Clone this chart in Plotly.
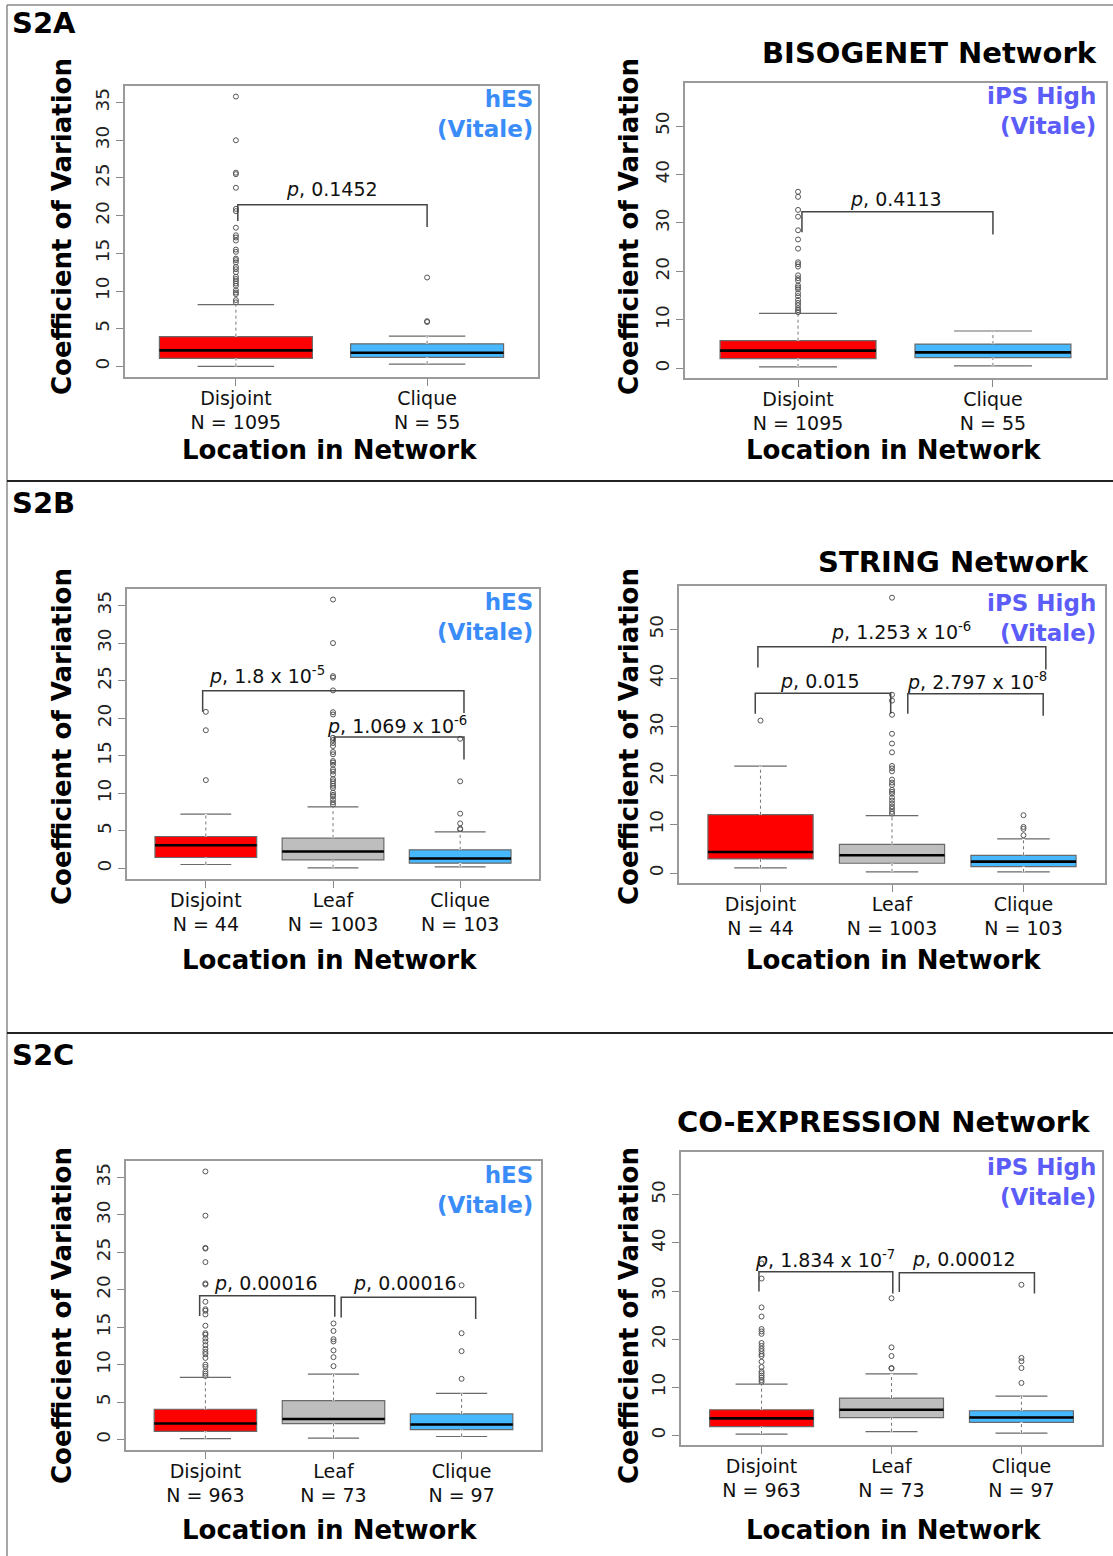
import plotly.graph_objects as go

W, H = 1113, 1556
FONT = "DejaVu Sans"

# ------------------------------------------------------------------ data
# S2A  BISOGENET, hES
A1_labels = ["Disjoint", "Clique"]
A1_n = [1095, 55]
A1_lower = [0.0, 0.3]
A1_q1 = [1.06, 1.2]
A1_median = [2.13, 1.82]
A1_q3 = [3.95, 3.0]
A1_upper = [8.2, 4.03]
A1_outliers = [
    [35.8, 30.0, 25.7, 25.5, 23.7, 20.9, 20.6, 18.4, 17.4, 17.1, 16.7, 15.5, 15.2, 14.3,
     14.1, 13.8, 13.2, 12.9, 12.5, 11.9, 11.6, 11.3, 11.0, 10.7, 10.1, 9.8, 9.6, 8.8, 8.5],
    [11.8, 6.0, 5.9],
]
A1_pvalues = ["0.1452"]

# S2A  BISOGENET, iPS High
A2_labels = ["Disjoint", "Clique"]
A2_n = [1095, 55]
A2_lower = [0.28, 0.5]
A2_q1 = [2.0, 2.2]
A2_median = [3.65, 3.3]
A2_q3 = [5.7, 5.0]
A2_upper = [11.35, 7.7]
A2_outliers = [
    [36.45, 35.4, 32.7, 31.3, 28.5, 26.6, 24.7, 21.9, 21.5, 21.0, 19.2, 18.6, 18.1, 17.1,
     16.7, 16.3, 15.5, 14.9, 14.1, 13.5, 13.0, 12.4, 12.0, 11.6],
    [],
]
A2_pvalues = ["0.4113"]

# S2B  STRING, hES
B1_labels = ["Disjoint", "Leaf", "Clique"]
B1_n = [44, 1003, 103]
B1_lower = [0.53, 0.09, 0.22]
B1_q1 = [1.46, 1.15, 0.71]
B1_median = [3.1, 2.26, 1.33]
B1_q3 = [4.26, 4.04, 2.48]
B1_upper = [7.23, 8.2, 4.88]
B1_outliers = [
    [20.85, 18.4, 11.76],
    [35.8, 30.0, 25.6, 25.4, 23.7, 20.8, 20.5, 17.4, 17.1, 16.7, 16.3, 15.5, 15.2, 14.3,
     14.1, 13.8, 13.2, 12.9, 12.5, 11.9, 11.6, 11.3, 11.0, 10.7, 10.1, 9.8, 9.6, 9.2, 8.8, 8.5],
    [17.26, 11.6, 7.3, 6.0, 5.3, 5.2],
]
B1_pvalues = ["1.8 x 10<sup>-5</sup>", "1.069 x 10<sup>-6</sup>"]

# S2B  STRING, iPS High
B2_labels = ["Disjoint", "Leaf", "Clique"]
B2_n = [44, 1003, 103]
B2_lower = [1.09, 0.27, 0.27]
B2_q1 = [2.93, 2.05, 1.36]
B2_median = [4.37, 3.68, 2.39]
B2_q3 = [12.0, 5.93, 3.68]
B2_upper = [21.96, 11.8, 7.03]
B2_outliers = [
    [31.3],
    [56.5, 36.6, 35.4, 32.5, 28.6, 26.6, 24.8, 22.0, 21.5, 20.9, 19.2, 18.6, 18.1, 17.1,
     16.7, 16.3, 15.5, 14.9, 14.3, 13.7, 13.2, 12.6, 12.2],
    [11.9, 9.5, 9.1, 7.8],
]
B2_pvalues = ["1.253 x 10<sup>-6</sup>", "0.015", "2.797 x 10<sup>-8</sup>"]

# S2C  CO-EXPRESSION, hES
C1_labels = ["Disjoint", "Leaf", "Clique"]
C1_n = [963, 73, 97]
C1_lower = [0.13, 0.18, 0.4]
C1_q1 = [1.1, 2.13, 1.33]
C1_median = [2.13, 2.75, 2.0]
C1_q3 = [4.04, 5.19, 3.42]
C1_upper = [8.3, 8.74, 6.17]
C1_outliers = [
    [35.8, 29.9, 25.6, 25.5, 23.7, 20.85, 20.7, 18.4, 17.4, 17.2, 16.7, 15.2, 14.2, 14.0,
     13.5, 13.1, 12.6, 12.1, 11.7, 11.4, 10.9, 10.0, 9.7, 9.1, 8.8, 8.5],
    [15.5, 14.5, 13.4, 13.1, 11.9, 11.0, 9.8],
    [20.6, 14.2, 11.8, 8.1],
]
C1_pvalues = ["0.00016", "0.00016"]

# S2C  CO-EXPRESSION, iPS High
C2_labels = ["Disjoint", "Leaf", "Clique"]
C2_n = [963, 73, 97]
C2_lower = [0.28, 0.76, 0.48]
C2_q1 = [1.8, 3.67, 2.7]
C2_median = [3.53, 5.33, 3.73]
C2_q3 = [5.33, 7.75, 5.12]
C2_upper = [10.65, 12.8, 8.16]
C2_outliers = [
    [35.75, 32.6, 26.6, 24.7, 22.1, 21.6, 21.1, 19.2, 18.6, 18.0, 17.5, 16.9, 16.5, 15.3,
     14.2, 13.3, 12.9, 12.4, 12.0, 11.5, 11.1],
    [28.5, 18.3, 16.5, 14.0, 13.9],
    [31.3, 16.1, 15.4, 14.0, 10.9],
]
C2_pvalues = ["1.834 x 10<sup>-7</sup>", "0.00012"]

hES_ticks = [0, 5, 10, 15, 20, 25, 30, 35]
iPS_ticks = [0, 10, 20, 30, 40, 50]

# ------------------------------------------------------------------ styling / layout
CAT_COLORS = {"Disjoint": "#FF0000", "Leaf": "#BEBEBE", "Clique": "#45B8FF"}
HES_COLOR = "#3A8CF8"
IPS_COLOR = "#5C5CF8"

panels = [
    dict(labels=A1_labels, n=A1_n, lower=A1_lower, q1=A1_q1, median=A1_median, q3=A1_q3,
         upper=A1_upper, outliers=A1_outliers, pvalues=A1_pvalues,
         box=(125, 538, 86, 377), yrange=[-1.4, 37.2], ticks=hES_ticks,
         brackets=[(1.01, 2.0, 21.45, 19.3, 18.5)], ptext=[(1.5, 23.5)],
         tag=("hES<br>(Vitale)", HES_COLOR, 535, 114)),
    dict(labels=A2_labels, n=A2_n, lower=A2_lower, q1=A2_q1, median=A2_median, q3=A2_q3,
         upper=A2_upper, outliers=A2_outliers, pvalues=A2_pvalues,
         box=(685, 1106, 83, 378), yrange=[-2.0, 58.9], ticks=iPS_ticks,
         brackets=[(1.02, 2.0, 32.3, 28.1, 27.6)], ptext=[(1.5, 34.9)],
         tag=("iPS High<br>(Vitale)", IPS_COLOR, 1098, 110.5)),
    dict(labels=B1_labels, n=B1_n, lower=B1_lower, q1=B1_q1, median=B1_median, q3=B1_q3,
         upper=B1_upper, outliers=B1_outliers, pvalues=B1_pvalues,
         box=(127, 539, 589, 879), yrange=[-1.4, 37.2], ticks=hES_ticks,
         brackets=[(0.975, 3.03, 23.65, 20.85, 20.7), (2.01, 3.03, 17.5, 16.8, 14.5)],
         ptext=[(1.48, 25.8), (2.5, 19.1)],
         tag=("hES<br>(Vitale)", HES_COLOR, 535, 617)),
    dict(labels=B2_labels, n=B2_n, lower=B2_lower, q1=B2_q1, median=B2_median, q3=B2_q3,
         upper=B2_upper, outliers=B2_outliers, pvalues=B2_pvalues,
         box=(679, 1105, 586, 883), yrange=[-2.0, 58.9], ticks=iPS_ticks,
         brackets=[(0.98, 3.17, 46.45, 42.2, 41.8), (0.96, 1.99, 36.9, 32.7, 32.7),
                   (2.12, 3.15, 36.8, 32.7, 32.3)],
         ptext=[(2.07, 49.6), (1.45, 39.5), (2.65, 39.5)],
         tag=("iPS High<br>(Vitale)", IPS_COLOR, 1098, 618)),
    dict(labels=C1_labels, n=C1_n, lower=C1_lower, q1=C1_q1, median=C1_median, q3=C1_q3,
         upper=C1_upper, outliers=C1_outliers, pvalues=C1_pvalues,
         box=(126, 541, 1161, 1450), yrange=[-1.4, 37.2], ticks=hES_ticks,
         brackets=[(0.955, 2.01, 19.2, 16.5, 16.4), (2.06, 3.11, 19.0, 16.3, 16.1)],
         ptext=[(1.47, 20.9), (2.56, 20.9)],
         tag=("hES<br>(Vitale)", HES_COLOR, 535, 1189.5)),
    dict(labels=C2_labels, n=C2_n, lower=C2_lower, q1=C2_q1, median=C2_median, q3=C2_q3,
         upper=C2_upper, outliers=C2_outliers, pvalues=C2_pvalues,
         box=(681, 1102, 1152, 1445), yrange=[-2.0, 58.9], ticks=iPS_ticks,
         brackets=[(0.98, 2.01, 34.0, 29.9, 29.5), (2.06, 3.1, 33.8, 29.8, 29.5)],
         ptext=[(1.49, 36.7), (2.56, 36.7)],
         tag=("iPS High<br>(Vitale)", IPS_COLOR, 1098, 1182)),
]


def px_x(v):
    return v / W


def px_y(v):
    return 1 - v / H


fig = go.Figure()
annotations = []
layout_axes = {}
BOX_W = 0.8

for i, p in enumerate(panels):
    s = "" if i == 0 else str(i + 1)
    xa, ya = "x" + s, "y" + s
    k = len(p["labels"])
    pos = list(range(1, k + 1))

    for j in range(k):
        lab = p["labels"][j]
        fig.add_trace(go.Box(
            x=[pos[j]], q1=[p["q1"][j]], median=[p["median"][j]], q3=[p["q3"][j]],
            lowerfence=[p["lower"][j]], upperfence=[p["upper"][j]],
            width=BOX_W, whiskerwidth=0.5, boxpoints=False,
            fillcolor=CAT_COLORS[lab], line=dict(color="#6a6a6a", width=1.2),
            xaxis=xa, yaxis=ya, hoverinfo="skip"))
        # dotted whisker stems (R style): blank the solid stem, then dot it
        for y0, y1 in [(p["q3"][j], p["upper"][j]), (p["lower"][j], p["q1"][j])]:
            fig.add_trace(go.Scatter(
                x=[pos[j], pos[j]], y=[y0, y1], mode="lines",
                line=dict(color="white", width=2.6), xaxis=xa, yaxis=ya, hoverinfo="skip"))
            fig.add_trace(go.Scatter(
                x=[pos[j], pos[j]], y=[y0, y1], mode="lines",
                line=dict(color="#777777", width=1, dash="dot"),
                xaxis=xa, yaxis=ya, hoverinfo="skip"))
        # thick black median
        fig.add_trace(go.Scatter(
            x=[pos[j] - BOX_W / 2, pos[j] + BOX_W / 2], y=[p["median"][j]] * 2,
            mode="lines", line=dict(color="black", width=2.6),
            xaxis=xa, yaxis=ya, hoverinfo="skip"))
        if p["outliers"][j]:
            fig.add_trace(go.Scatter(
                x=[pos[j]] * len(p["outliers"][j]), y=p["outliers"][j], mode="markers",
                marker=dict(symbol="circle-open", size=5, color="#555555",
                            line=dict(width=1, color="#555555")),
                xaxis=xa, yaxis=ya, hoverinfo="skip"))

    # significance brackets
    for (xl, xr, yb, yl, yr), (tx, ty), pv in zip(p["brackets"], p["ptext"], p["pvalues"]):
        fig.add_trace(go.Scatter(
            x=[xl, xl, xr, xr], y=[yl, yb, yb, yr], mode="lines",
            line=dict(color="#444444", width=1.5), xaxis=xa, yaxis=ya, hoverinfo="skip"))
        annotations.append(dict(
            x=tx, y=ty, xref=xa, yref=ya, text="<i>p</i>, " + pv, showarrow=False,
            xanchor="center", yanchor="middle",
            font=dict(family=FONT, size=19, color="#111111")))

    l, r, t, b = p["box"]
    xrange = [0.38, 3.62] if k == 3 else [0.42, 2.58]
    layout_axes["xaxis" + s] = dict(
        domain=[px_x(l), px_x(r)], range=xrange, anchor=ya,
        tickvals=pos,
        ticktext=[f"{lab}<br>N = {n}" for lab, n in zip(p["labels"], p["n"])],
        ticks="outside", ticklen=7, tickcolor="#888888", tickwidth=1.2,
        ticklabelstandoff=-4,
        showline=True, mirror=True, linecolor="#9a9a9a", linewidth=1.5,
        showgrid=False, zeroline=False,
        tickfont=dict(family=FONT, size=19, color="#111111"))
    layout_axes["yaxis" + s] = dict(
        domain=[px_y(b), px_y(t)], range=p["yrange"], anchor=xa,
        tickvals=p["ticks"], tickangle=-90,
        ticks="outside", ticklen=7, tickcolor="#888888", tickwidth=1.2,
        showline=True, mirror=True, linecolor="#9a9a9a", linewidth=1.5,
        showgrid=False, zeroline=False,
        tickfont=dict(family=FONT, size=18.5, color="#222222"))

    # cell-line tag
    tag, col, tx, ty = p["tag"]
    annotations.append(dict(
        x=px_x(tx), y=px_y(ty), xref="paper", yref="paper", text="<b>" + tag + "</b>",
        showarrow=False, xanchor="right", yanchor="middle", align="right",
        font=dict(family=FONT, size=23, color=col)))

# axis titles
for cx, cy in [(62, 227), (629, 227), (62, 737), (629, 737), (62, 1316), (629, 1316)]:
    annotations.append(dict(
        x=px_x(cx), y=px_y(cy), xref="paper", yref="paper",
        text="<b>Coefficient of Variation</b>", textangle=-90, showarrow=False,
        xanchor="center", yanchor="middle", font=dict(family=FONT, size=26, color="black")))
for cx, cy in [(329, 450), (893, 450), (329, 960), (893, 960), (329, 1530), (893, 1530)]:
    annotations.append(dict(
        x=px_x(cx), y=px_y(cy), xref="paper", yref="paper",
        text="<b>Location in Network</b>", showarrow=False,
        xanchor="center", yanchor="middle", font=dict(family=FONT, size=26, color="black")))

# network titles
for txt, rx, cy in [("BISOGENET Network", 1099, 53), ("STRING Network", 1091, 562),
                    ("CO-EXPRESSION Network", 1092, 1122)]:
    annotations.append(dict(
        x=px_x(rx), y=px_y(cy), xref="paper", yref="paper", text="<b>" + txt + "</b>",
        showarrow=False, xanchor="right", yanchor="middle",
        font=dict(family=FONT, size=29, color="black")))

# panel labels
for txt, cy in [("S2A", 23), ("S2B", 503), ("S2C", 1055)]:
    annotations.append(dict(
        x=px_x(10), y=px_y(cy), xref="paper", yref="paper", text="<b>" + txt + "</b>",
        showarrow=False, xanchor="left", yanchor="middle",
        font=dict(family=FONT, size=29, color="black")))

shapes = [
    dict(type="line", xref="paper", yref="paper", x0=px_x(7), x1=1, y0=px_y(5), y1=px_y(5),
         line=dict(color="#8a8a8a", width=1.5)),
    dict(type="line", xref="paper", yref="paper", x0=px_x(7), x1=px_x(7), y0=px_y(5), y1=0,
         line=dict(color="#8a8a8a", width=1.5)),
    dict(type="line", xref="paper", yref="paper", x0=px_x(7), x1=1, y0=px_y(481), y1=px_y(481),
         line=dict(color="#222222", width=1.8)),
    dict(type="line", xref="paper", yref="paper", x0=px_x(7), x1=1, y0=px_y(1033), y1=px_y(1033),
         line=dict(color="#222222", width=1.8)),
]

fig.update_layout(
    width=W, height=H, margin=dict(l=0, r=0, t=0, b=0),
    paper_bgcolor="white", plot_bgcolor="white", showlegend=False,
    annotations=annotations, shapes=shapes, font=dict(family=FONT),
    **layout_axes)

fig.write_html("out.html", config={"displayModeBar": False},
               post_script="document.body.style.margin='0px';")
